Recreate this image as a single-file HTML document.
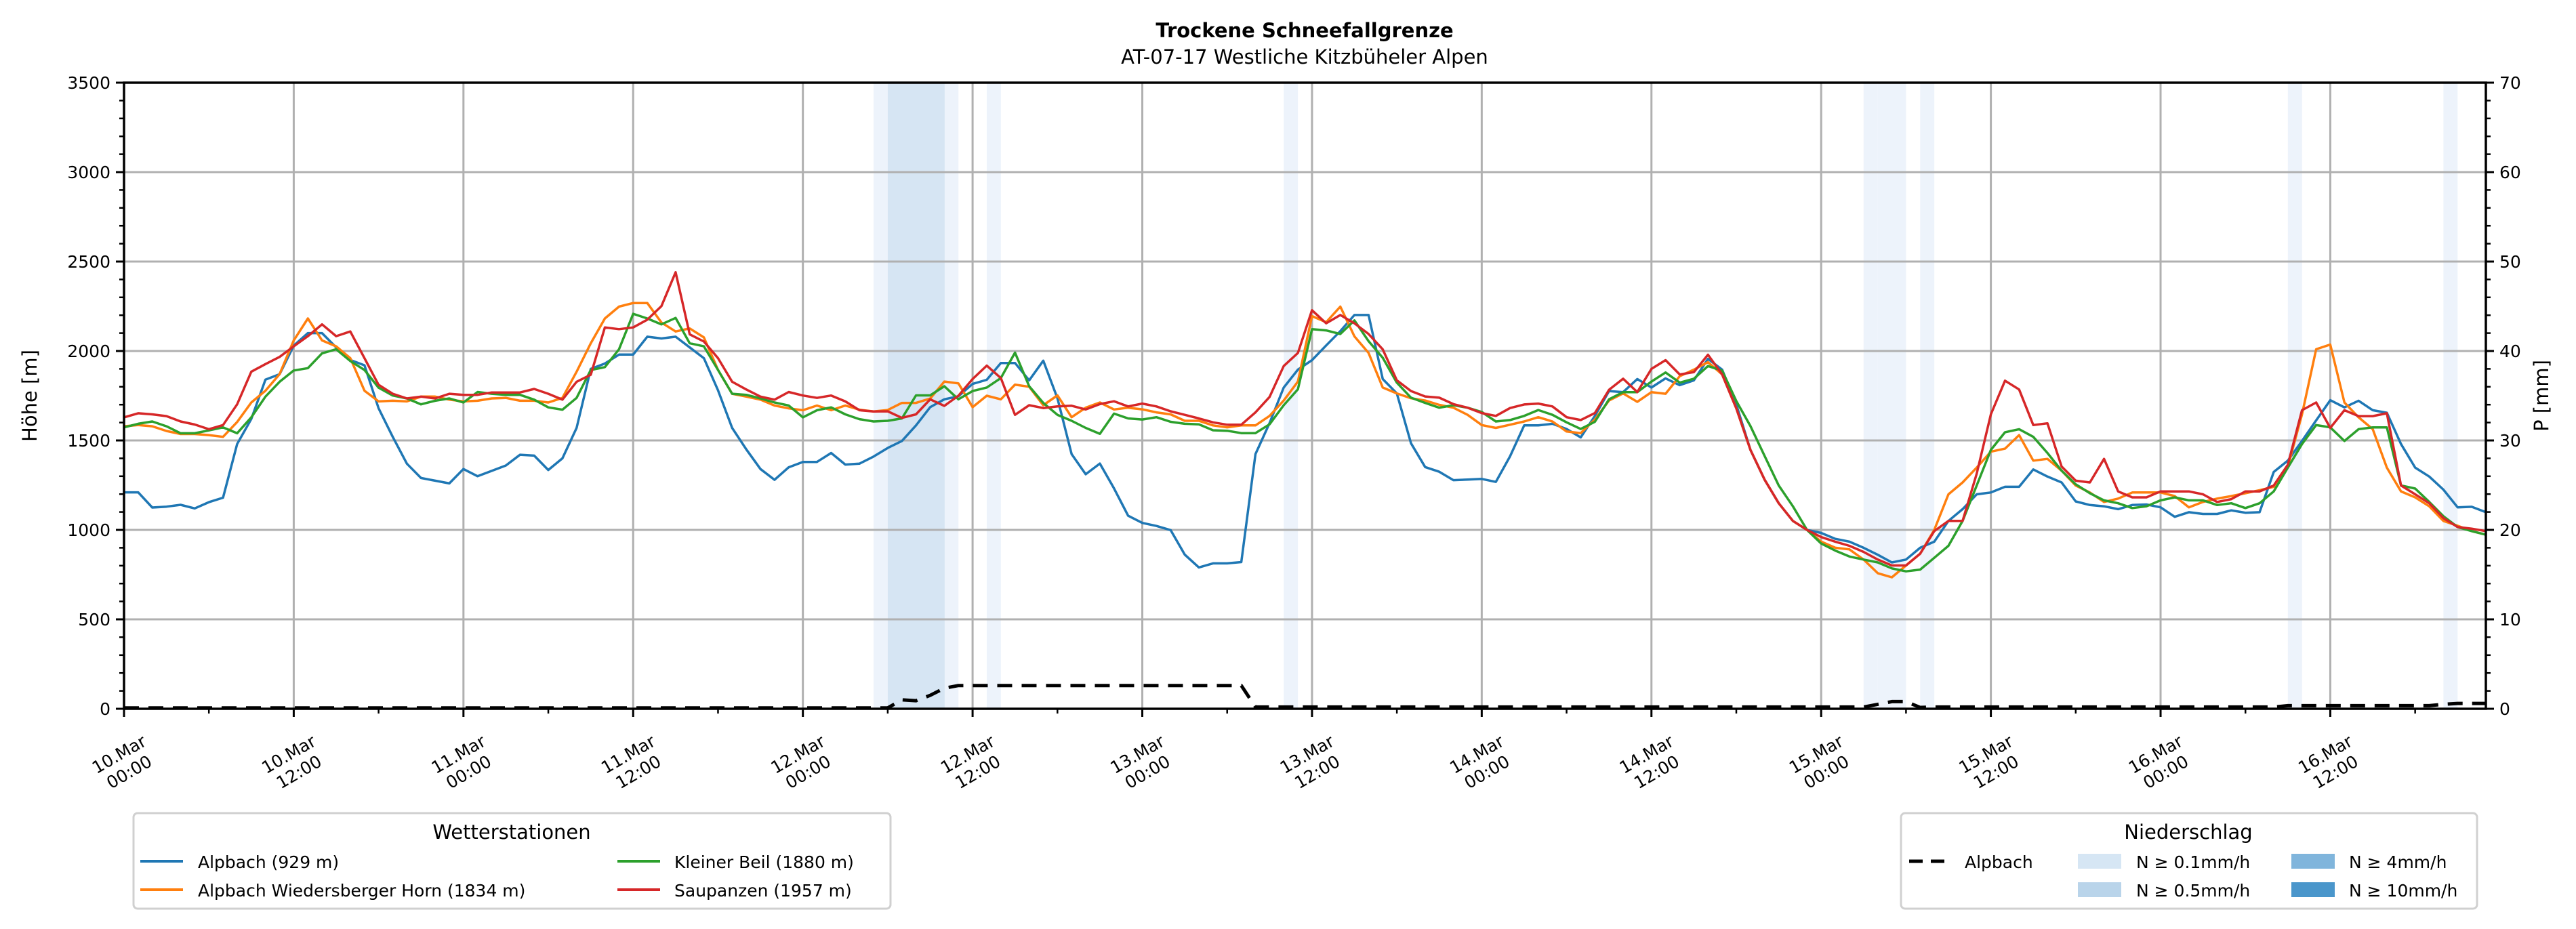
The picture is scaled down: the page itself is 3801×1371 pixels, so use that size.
<!DOCTYPE html>
<html><head><meta charset="utf-8">
<style>
html,body{margin:0;padding:0;background:#fff;}
svg{display:block;font-family:"DejaVu Sans","Liberation Sans",sans-serif;}
</style></head>
<body>
<svg id="chart" width="3801" height="1371" viewBox="0 0 3801 1371" xmlns="http://www.w3.org/2000/svg">
<rect width="3801" height="1371" fill="#fff"/>
<text x="1925" y="55" text-anchor="middle" font-size="29" font-weight="bold">Trockene Schneefallgrenze</text>
<text x="1925" y="94" text-anchor="middle" font-size="29">AT-07-17 Westliche Kitzbüheler Alpen</text>
<g id="bands"></g><g id="grid"></g><g id="series"></g><g id="axes"></g><g id="legends"></g>
</svg>
<script>
const hoursTotal = 167;
const xTickHours = [0,12,24,36,48,60,72,84,96,108,120,132,144,156];
const xTickDay = ["10.Mar","10.Mar","11.Mar","11.Mar","12.Mar","12.Mar","13.Mar","13.Mar","14.Mar","14.Mar","15.Mar","15.Mar","16.Mar","16.Mar"];
const xTickTime = ["00:00","12:00","00:00","12:00","00:00","12:00","00:00","12:00","00:00","12:00","00:00","12:00","00:00","12:00"];
const yTicksLeft = [0,500,1000,1500,2000,2500,3000,3500];
const yTicksRight = [0,10,20,30,40,50,60,70];
const alpbach = [1210,1210,1125,1130,1140,1120,1155,1180,1480,1620,1840,1870,2030,2100,2100,2020,1950,1920,1680,1520,1370,1290,1275,1260,1340,1300,1330,1360,1420,1415,1335,1400,1570,1900,1930,1980,1980,2080,2070,2080,2020,1960,1780,1570,1450,1340,1280,1350,1380,1380,1430,1365,1370,1410,1458,
1497,1584,1686,1730,1747,1816,1839,1933,1933,1836,1946,1736,1424,1311,1371,1232,1079,1039,1022,999,862,790,813,813,820,1424,1597,1796,1896,1949,2031,2111,2201,2201,1843,1763,1484,1351,1325,1278,1281,1285,1268,1411,1584,1584,1593,1564,1517,1637,1776,1770,1843,1796,1847,1809,1836,1956,1896,
1700,1447,1281,1149,1050,1000,
983,950,934,900,861,818,834,900,934,1050,1116,1199,1209,1241,1241,1338,1298,1265,1159,1139,1132,1116,1139,1142,1126,1073,1099,1089,1089,1109,1096,1099,1324,1387,1497,1612,1725,1685,1722,1669,1655,1480,1348,1298,1225,1126,1129,1099];
const wiedersberger = [1579,1586,1579,1553,1536,1536,1530,1520,1603,1712,1778,1871,2059,2182,2059,2026,1960,1778,1718,1722,1718,1745,1745,1728,1718,1722,1735,1738,1722,1722,1712,1738,1884,2043,2182,2248,2268,2268,2159,2109,2126,2076,1894,1761,1745,1728,1695,1679,1669,1695,1669,1695,1672,1662,
1670,1710,1710,1734,1829,1819,1686,1750,1730,1812,1800,1697,1752,1630,1683,1712,1673,1683,1674,1657,1646,1610,1610,1584,1573,1584,1584,1637,1723,1829,2195,2161,2248,2082,1989,1796,1763,1736,1723,1699,1683,1643,1586,1570,1588,1606,1630,1606,1550,1541,1617,1723,1763,1716,1770,1761,1859,1896,1938,1869,
1679,1447,1281,1149,1050,1000,
934,900,891,834,758,735,801,867,1000,1199,1265,1348,1437,1454,1530,1387,1397,1331,1248,1209,1156,1175,1209,1209,1209,1189,1126,1156,1175,1189,1205,1222,1241,1354,1646,2010,2036,1712,1629,1563,1348,1215,1182,1132,1050,1023,993,973];
const kleinerBeil = [1573,1593,1606,1579,1540,1540,1556,1573,1540,1629,1745,1828,1891,1904,1987,2010,1944,1894,1795,1751,1735,1702,1722,1735,1712,1771,1761,1755,1755,1728,1685,1672,1738,1894,1910,2010,2208,2182,2149,2185,2043,2026,1894,1761,1755,1735,1712,1695,1629,1669,1685,1646,1619,1606,
1610,1623,1752,1752,1803,1730,1776,1796,1849,1991,1803,1710,1643,1610,1570,1537,1650,1623,1617,1630,1604,1593,1590,1557,1554,1541,1541,1590,1697,1786,2122,2115,2095,2171,2055,1962,1823,1739,1710,1683,1697,1683,1659,1606,1614,1637,1670,1643,1601,1564,1604,1730,1770,1770,1829,1880,1823,1845,1916,1890,
1720,1580,1414,1248,1132,1000,
924,884,851,834,818,785,768,778,844,911,1050,1248,1447,1546,1563,1520,1430,1331,1255,1205,1165,1149,1122,1132,1165,1182,1165,1165,1139,1149,1122,1149,1215,1348,1480,1586,1573,1497,1563,1573,1573,1248,1231,1156,1076,1016,993,973];
const saupanzen = [1629,1652,1646,1636,1606,1589,1563,1586,1702,1884,1927,1967,2026,2083,2149,2083,2109,1960,1811,1761,1735,1745,1735,1761,1755,1755,1768,1768,1768,1788,1761,1728,1828,1867,2132,2122,2132,2175,2251,2440,2093,2053,1960,1828,1785,1745,1728,1771,1751,1738,1751,1718,1669,1662,
1663,1626,1646,1730,1693,1750,1843,1918,1849,1643,1697,1681,1690,1694,1673,1703,1719,1690,1706,1690,1663,1643,1623,1601,1588,1588,1657,1743,1916,1989,2228,2155,2201,2155,2095,2009,1836,1776,1746,1739,1703,1683,1653,1637,1681,1701,1706,1690,1630,1614,1653,1783,1845,1770,1900,1949,1869,1882,1979,1869,
1679,1447,1281,1149,1050,1000,
960,934,911,877,834,801,801,867,993,1050,1050,1314,1646,1834,1785,1586,1596,1354,1275,1265,1397,1215,1182,1182,1215,1215,1215,1199,1156,1172,1215,1215,1248,1364,1669,1712,1570,1669,1636,1636,1652,1248,1199,1149,1066,1016,1007,993];
const precipAlpbach = [
0.1,0.1,0.1,0.1,0.1,0.1,0.1,0.1,0.1,0.1,
0.1,0.1,0.1,0.1,0.1,0.1,0.1,0.1,0.1,0.1,
0.1,0.1,0.1,0.1,0.1,0.1,0.1,0.1,0.1,0.1,
0.1,0.1,0.1,0.1,0.1,0.1,0.1,0.1,0.1,0.1,
0.1,0.1,0.1,0.1,0.1,0.1,0.1,0.1,0.1,0.1,
0.1,0.1,0.1,0.1,0.1,1.0,0.9,1.5,2.3,2.6,
2.6,2.6,2.6,2.6,2.6,2.6,2.6,2.6,2.6,2.6,
2.6,2.6,2.6,2.6,2.6,2.6,2.6,2.6,2.6,2.6,
0.2,0.2,0.2,0.2,0.2,0.2,0.2,0.2,0.2,0.2,
0.2,0.2,0.2,0.2,0.2,0.2,0.2,0.2,0.2,0.2,
0.2,0.2,0.2,0.2,0.2,0.2,0.2,0.2,0.2,0.2,
0.2,0.2,0.2,0.2,0.2,0.2,0.2,0.2,0.2,0.2,
0.2,0.2,0.2,0.2,0.5,0.8,0.8,0.15,0.2,0.2,
0.2,0.2,0.2,0.2,0.2,0.2,0.2,0.2,0.2,0.2,
0.2,0.2,0.2,0.2,0.2,0.2,0.2,0.2,0.2,0.2,
0.2,0.2,0.2,0.35,0.35,0.35,0.35,0.35,0.35,0.35,
0.35,0.35,0.35,0.35,0.5,0.6,0.6,0.6];
const rainLightHours = [53,58,61,82,123,124,125,127,153,164];
const rainMediumHours = [54,55,56,57];

const L=183,R=3668,T=122,B=1046;
const NS="http://www.w3.org/2000/svg";
function xS(h){return L+(R-L)*h/hoursTotal;}
function yS(v){return B-(B-T)*v/3500;}
function yP(v){return B-(B-T)*v/70;}
function mk(tag,attrs,parent){const e=document.createElementNS(NS,tag);for(const k in attrs)e.setAttribute(k,attrs[k]);parent.appendChild(e);return e;}
const gBands=document.getElementById('bands'),gGrid=document.getElementById('grid'),gSer=document.getElementById('series'),gAx=document.getElementById('axes');

rainLightHours.forEach(h=>{const r=mk('rect',{x:xS(h),y:T,width:xS(h+1)-xS(h),height:B-T,fill:'#edf3fb'},gBands);

});
rainMediumHours.forEach(h=>{const r=mk('rect',{x:xS(h),y:T,width:xS(h+1)-xS(h)+0.5,height:B-T,fill:'#d6e5f3'},gBands);

});

yTicksLeft.forEach(v=>{if(v===0||v===3500)return;const l=mk('line',{x1:L,x2:R,y1:yS(v),y2:yS(v),stroke:'#b0b0b0','stroke-width':3},gGrid);

});
xTickHours.forEach(h=>{if(h===0)return;const l=mk('line',{x1:xS(h),x2:xS(h),y1:T,y2:B,stroke:'#b0b0b0','stroke-width':3},gGrid);

});

function line(arr,color,name,yf,dash){
  const d=arr.map((v,i)=>(i?'L':'M')+xS(i).toFixed(1)+','+yf(v).toFixed(1)).join('');
  const p=mk('path',{d:d,fill:'none',stroke:color,'stroke-width':dash?5:3.5,'stroke-linejoin':'round'},gSer);
  if(dash)p.setAttribute('stroke-dasharray','22 14');
  
  
}
line(alpbach,'#1f77b4','series-alpbach',yS);
line(wiedersberger,'#ff7f0e','series-wiedersberger-horn',yS);
line(kleinerBeil,'#2ca02c','series-kleiner-beil',yS);
line(saupanzen,'#d62728','series-saupanzen',yS);
line(precipAlpbach,'#000','series-precip-alpbach',yP,true);

mk('rect',{x:L,y:T,width:R-L,height:B-T,fill:'none',stroke:'#000','stroke-width':3.5},gAx);
for(let v=0;v<=3500;v+=100){const maj=v%500===0;mk('line',{x1:L-(maj?12:7),x2:L,y1:yS(v),y2:yS(v),stroke:'#000','stroke-width':maj?3:2.5},gAx);}
yTicksLeft.forEach(v=>{const t=mk('text',{x:L-20,y:yS(v)+9,'text-anchor':'end','font-size':25},gAx);t.textContent=v;

});
for(let v=0;v<=70;v+=2){const maj=v%10===0;mk('line',{x1:R,x2:R+(maj?12:7),y1:yP(v),y2:yP(v),stroke:'#000','stroke-width':maj?3:2.5},gAx);}
yTicksRight.forEach(v=>{const t=mk('text',{x:R+20,y:yP(v)+9,'font-size':25},gAx);t.textContent=v;

});
for(let h=0;h<=hoursTotal;h+=6){const maj=h%12===0;mk('line',{x1:xS(h),x2:xS(h),y1:B,y2:B+(maj?12:7),stroke:'#000','stroke-width':maj?3:2.5},gAx);}
xTickHours.forEach((h,i)=>{const cx=xS(h),cy=1126;
 const t=mk('text',{x:cx,y:cy-6,'text-anchor':'middle','font-size':25,transform:`rotate(-30 ${cx} ${cy})`},gAx);
 
 
 const a=mk('tspan',{x:cx,dy:0},t);a.textContent=xTickDay[i];
 const b=mk('tspan',{x:cx,dy:30},t);b.textContent=xTickTime[i];});
let yl=mk('text',{x:0,y:0,'text-anchor':'middle','font-size':29,transform:`translate(54 ${(T+B)/2}) rotate(-90)`},gAx);yl.textContent='Höhe [m]';


let yr=mk('text',{x:0,y:0,'text-anchor':'middle','font-size':29,transform:`translate(3760 ${(T+B)/2}) rotate(-90)`},gAx);yr.textContent='P [mm]';


</script>
<svg style="position:absolute;left:0;top:0" width="3801" height="1371">
<g font-family="DejaVu Sans, Liberation Sans, sans-serif">
<rect x="197" y="1200" width="1117" height="141" rx="6" fill="#fff" stroke="#d0d0d0" stroke-width="3"/>
<text x="755" y="1238" text-anchor="middle" font-size="29">Wetterstationen</text>
<line x1="207" x2="270" y1="1271" y2="1271" stroke="#1f77b4" stroke-width="4"/><text x="292" y="1281" font-size="25">Alpbach (929 m)</text>
<line x1="207" x2="270" y1="1313" y2="1313" stroke="#ff7f0e" stroke-width="4"/><text x="292" y="1323" font-size="25">Alpbach Wiedersberger Horn (1834 m)</text>
<line x1="911" x2="974" y1="1271" y2="1271" stroke="#2ca02c" stroke-width="4"/><text x="995" y="1281" font-size="25">Kleiner Beil (1880 m)</text>
<line x1="911" x2="974" y1="1313" y2="1313" stroke="#d62728" stroke-width="4"/><text x="995" y="1323" font-size="25">Saupanzen (1957 m)</text>
</g>
<g font-family="DejaVu Sans, Liberation Sans, sans-serif">
<rect x="2805" y="1200" width="850" height="141" rx="6" fill="#fff" stroke="#d0d0d0" stroke-width="3"/>
<text x="3229" y="1238" text-anchor="middle" font-size="29">Niederschlag</text>
<line x1="2817" x2="2875" y1="1271" y2="1271" stroke="#000" stroke-width="5" stroke-dasharray="20 12"/><text x="2899" y="1281" font-size="25">Alpbach</text>
<rect x="3066" y="1260" width="64" height="22" fill="#d6e6f4"/><text x="3152" y="1281" font-size="25">N ≥ 0.1mm/h</text>
<rect x="3066" y="1302" width="64" height="22" fill="#b9d4ea"/><text x="3152" y="1323" font-size="25">N ≥ 0.5mm/h</text>
<rect x="3381" y="1260" width="64" height="22" fill="#80b5dc"/><text x="3466" y="1281" font-size="25">N ≥ 4mm/h</text>
<rect x="3381" y="1302" width="64" height="22" fill="#4a96cb"/><text x="3466" y="1323" font-size="25">N ≥ 10mm/h</text>
</g>
</svg>
</body></html>
